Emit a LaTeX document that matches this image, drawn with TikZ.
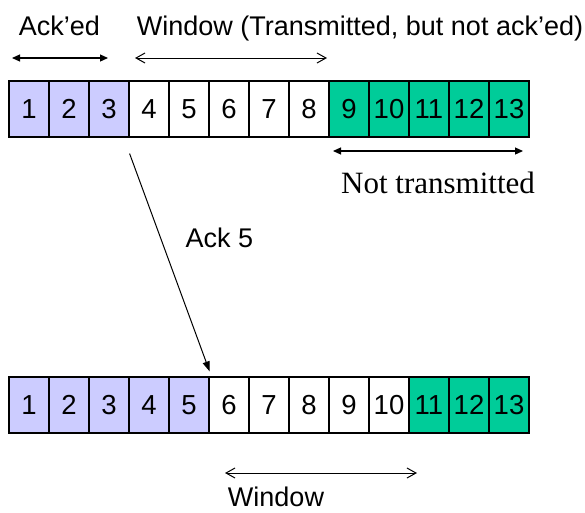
\documentclass[tikz,border=0pt]{standalone}
\usepackage{fontspec}
\setmainfont{Liberation Sans}
\newfontfamily\serifface{Liberation Serif}
\usetikzlibrary{arrows.meta}

\definecolor{ackfill}{RGB}{204,204,255}
\definecolor{newfill}{RGB}{0,204,153}

\tikzset{
  cell/.style={draw=black, line width=1.2pt, minimum width=40pt, minimum height=56pt,
               inner sep=0pt, font=\fontsize{27.5}{30}\selectfont},
  acked/.style={cell, fill=ackfill},
  pending/.style={cell, fill=white},
  unsent/.style={cell, fill=newfill},
  label/.style={anchor=base, inner sep=0pt, font=\fontsize{27}{30}\selectfont},
  solidspan/.style={line width=1.2pt, {Stealth[length=8pt,width=7pt,inset=0pt]}-{Stealth[length=8pt,width=7pt,inset=0pt]}},
  openspan/.style={line width=1pt, {Straight Barb[length=9pt,width=10pt]}-{Straight Barb[length=9pt,width=10pt]}},
  ackline/.style={line width=1pt, -{Stealth[length=10pt,width=7pt,inset=0pt]}}
}

\begin{document}
\begin{tikzpicture}[x=1pt, y=-1pt]
  \useasboundingbox (0,0) rectangle (585,512);

  % sender buffer before the acknowledgement
  \foreach \i/\st in {1/acked,2/acked,3/acked,4/pending,5/pending,6/pending,7/pending,8/pending,
                      9/unsent,10/unsent,11/unsent,12/unsent,13/unsent}
    \node[\st] (t\i) at ({29+40*(\i-1)},109) {\i};

  % sender buffer after "Ack 5"
  \foreach \i/\st in {1/acked,2/acked,3/acked,4/acked,5/acked,6/pending,7/pending,8/pending,
                      9/pending,10/pending,11/unsent,12/unsent,13/unsent}
    \node[\st] (b\i) at ({29+40*(\i-1)},405) {\i};

  % labels above the first row
  \node[label] (lacked) at (59.5,35) {Ack’ed};
  \node[label] (lwin) at (360,35) {Window (Transmitted, but not ack’ed)};

  \coordinate (ackL) at (12,58);
  \coordinate (ackR) at (108,58);
  \coordinate (winL) at (135,58);
  \coordinate (winR) at (327,58);
  \draw[solidspan] (ackL) -- (ackR);
  \draw[openspan] (winL) -- (winR);

  % not transmitted span
  \coordinate (ntL) at (333,151);
  \coordinate (ntR) at (523,151);
  \draw[solidspan] (ntL) -- (ntR);
  \node[anchor=base, inner sep=0pt, font=\serifface\fontsize{31}{34}\selectfont] (lnt) at (438,193) {Not transmitted};

  % acknowledgement
  \draw[ackline] ([yshift=-16pt]t3.south east) -- ([yshift=5pt]b5.north east);
  \node[label] (lack) at (219.5,247) {Ack 5};

  % window after the acknowledgement
  \coordinate (bwL) at (225,473);
  \coordinate (bwR) at (417,473);
  \draw[openspan] (bwL) -- (bwR);
  \node[label] (lbw) at (276,506) {Window};
\end{tikzpicture}
\end{document}
